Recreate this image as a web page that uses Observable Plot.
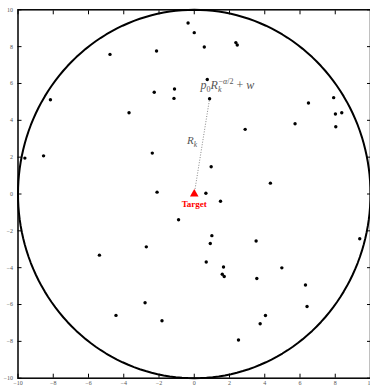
<!DOCTYPE html>
<html><head><meta charset="utf-8">
<script src="https://cdn.jsdelivr.net/npm/d3@7"></script>
<script src="https://cdn.jsdelivr.net/npm/@observablehq/plot@0.6"></script>
<style>body{margin:0;background:#fff} svg{overflow:visible;display:block}</style>
</head><body><div id="chart"></div>
<script>
// sensor positions
const xs = [-9.61,-8.55,-8.16,-4.78,-3.70,-2.14,-2.27,-2.38,-2.11,-1.12,-1.15,-0.35,0.00,0.57,2.36,2.44,0.74,0.87,2.89,6.48,7.91,8.01,8.37,8.03,5.72,0.96,4.32,0.66,1.49,1.00,0.91,0.68,1.66,1.59,1.70,3.51,3.55,4.97,6.31,6.40,4.04,3.74,2.51,9.39,-0.89,-2.72,-5.38,-2.79,-4.44,-1.83];
const ys = [1.95,2.07,5.12,7.58,4.41,7.76,5.52,2.22,0.10,5.70,5.19,9.28,8.76,7.98,8.22,8.09,6.22,5.17,3.51,4.94,5.23,4.34,4.41,3.65,3.81,1.48,0.59,0.04,-0.39,-2.26,-2.69,-3.69,-3.96,-4.36,-4.48,-2.55,-4.59,-4.01,-4.94,-6.11,-6.60,-7.04,-7.93,-2.43,-1.40,-2.87,-3.32,-5.90,-6.59,-6.88];
const xTicks = [-10,-8,-6,-4,-2,0,2,4,6,8,10];
const yTicks = [-10,-8,-6,-4,-2,0,2,4,6,8,10];
const radius = 10;
const targetX = [0], targetY = [0], targetLabel = ["Target"];
const sensorX = 0.87, sensorY = 5.17; // highlighted sensor (end of R_k)
const rLabel = [{x: -0.12, y: 2.9, text: "R_k"}];
const pLabel = [{x: 0.36, y: 5.9, text: "P_EXPR"}];

const pts = xs.map((x, i) => ({x, y: ys[i]}));
const circle = d3.range(0, 361, 2).map(a => ({x: radius * Math.cos(a * Math.PI / 180), y: radius * Math.sin(a * Math.PI / 180)}));
const target = targetX.map((x, i) => ({x, y: targetY[i], label: targetLabel[i]}));

const chart = Plot.plot({
  width: 370, height: 386,
  marginLeft: 17.5, marginRight: 0, marginTop: 9.3, marginBottom: 8.3,
  x: {domain: [-10, 10]},
  y: {domain: [-10, 10]},
  style: {fontFamily: "'Liberation Serif', serif", background: "white", color: "black"},
  marks: [
    Plot.axisX(xTicks, {anchor: "bottom", tickSize: 0, tickPadding: 2.5, fontSize: 6, fill: "#555", label: null, tickFormat: d3.format("")}),
    Plot.axisY(yTicks, {anchor: "left", tickSize: 0, tickPadding: 5, fontSize: 6, fill: "#555", label: null, tickFormat: d3.format("")}),
    Plot.axisX(xTicks, {anchor: "bottom", tickSize: -4, fill: "none", label: null}),
    Plot.axisX(xTicks, {anchor: "top", tickSize: -4, fill: "none", label: null}),
    Plot.axisY(yTicks, {anchor: "left", tickSize: -4, fill: "none", label: null}),
    Plot.axisY(yTicks, {anchor: "right", tickSize: -4, fill: "none", label: null}),
    Plot.frame({stroke: "black", strokeWidth: 1.5}),
    Plot.line(circle, {x: "x", y: "y", stroke: "black", strokeWidth: 2}),
    Plot.link([{x1: targetX[0], y1: targetY[0], x2: sensorX, y2: sensorY}], {x1: "x1", y1: "y1", x2: "x2", y2: "y2", stroke: "#888", strokeWidth: 1, strokeDasharray: "1,1.6"}),
    Plot.dot(pts, {x: "x", y: "y", r: 1.7, fill: "black"}),
    Plot.dot(target, {x: "x", y: "y", symbol: "triangle", r: 3.2, fill: "red"}),
    Plot.text(target, {x: "x", y: "y", text: "label", dy: 10, fill: "red", fontWeight: "bold", fontSize: 9}),
    Plot.text(rLabel, {x: "x", y: "y", text: "text", fill: "#555", fontSize: 11, textAnchor: "middle"}),
    Plot.text(pLabel, {x: "x", y: "y", text: "text", fill: "#555", fontSize: 12, textAnchor: "start"})
  ]
});
document.getElementById("chart").appendChild(chart);

chart.querySelectorAll("text").forEach(t => {
  if (t.textContent === "R_k") {
    t.innerHTML = '<tspan font-style="italic">R</tspan><tspan font-style="italic" font-size="7.5" dy="3">k</tspan>';
  } else if (t.textContent === "P_EXPR") {
    t.innerHTML = '<tspan font-style="italic">p</tspan><tspan font-size="8" dy="2.5">0</tspan><tspan font-style="italic" dy="-2.5">R</tspan><tspan font-style="italic" font-size="8" dy="3">k</tspan><tspan font-size="8" dx="-3" dy="-8.5">−<tspan font-style="italic">α</tspan>/2</tspan><tspan dy="5.5"> + </tspan><tspan font-style="italic">w</tspan>';
  }
});
</script></body></html>
